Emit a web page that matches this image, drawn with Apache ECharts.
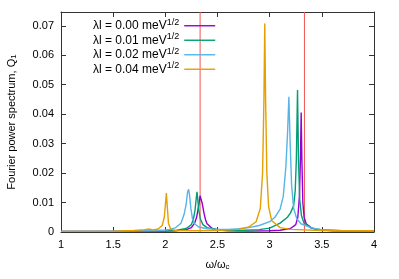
<!DOCTYPE html>
<html><head><meta charset="utf-8">
<script src="https://cdn.jsdelivr.net/npm/echarts@6/dist/echarts.min.js"></script>
<style>html,body{margin:0;padding:0;background:#fff}#c{width:399px;height:279px}</style>
</head><body><div id="c"></div>
<script>
const seriesNames = ['λl = 0.00 meV', 'λl = 0.01 meV', 'λl = 0.02 meV', 'λl = 0.04 meV'];
const seriesColors = ['#9400d3', '#009e73', '#56b4e9', '#e69f00'];
const xTicks = { min: 1, max: 4, interval: 0.5 };
const yTicks = { min: 0, max: 0.0747, interval: 0.01 };
const redLines = [2.3333, 3.3333];

const lam000 = [[1,0.0002],[1.5,0.0002],[2.0,0.0003],[2.1,0.0004],[2.2,0.0008],[2.25,0.0015],[2.28,0.003],[2.3,0.005],[2.32,0.009],[2.333,0.0123],[2.338,0.0126],[2.345,0.0118],[2.355,0.0095],[2.37,0.0065],[2.385,0.0042],[2.40,0.0028],[2.45,0.0012],[2.5,0.0007],[2.6,0.0004],[2.8,0.0003],[3.0,0.0004],[3.1,0.0006],[3.2,0.0012],[3.25,0.0025],[3.27,0.005],[3.285,0.012],[3.295,0.025],[3.302,0.0406],[3.309,0.024],[3.318,0.010],[3.33,0.005],[3.35,0.0028],[3.4,0.0014],[3.45,0.0008],[3.6,0.0004],[4,0.0002]];
const lam001 = [[1,0.0002],[1.5,0.0002],[2.0,0.0003],[2.1,0.0005],[2.2,0.0012],[2.25,0.0025],[2.27,0.0045],[2.285,0.0075],[2.295,0.011],[2.303,0.0136],[2.31,0.0115],[2.32,0.0075],[2.335,0.0045],[2.36,0.0025],[2.4,0.0015],[2.5,0.0008],[2.7,0.0005],[2.9,0.0008],[3.0,0.0013],[3.1,0.003],[3.17,0.005],[3.2,0.0065],[3.23,0.009],[3.245,0.014],[3.256,0.025],[3.267,0.0482],[3.276,0.025],[3.288,0.011],[3.305,0.0055],[3.33,0.003],[3.4,0.0013],[3.5,0.0007],[3.7,0.0004],[4,0.0003]];
const lam002 = [[1,0.0002],[1.5,0.0003],[1.9,0.0005],[2.0,0.0007],[2.05,0.0009],[2.1,0.0015],[2.15,0.003],[2.18,0.006],[2.2,0.0095],[2.213,0.0135],[2.223,0.0145],[2.232,0.0125],[2.245,0.008],[2.26,0.0045],[2.28,0.0028],[2.32,0.0017],[2.4,0.0011],[2.5,0.0009],[2.6,0.0009],[2.7,0.0011],[2.8,0.0015],[2.9,0.0022],[3.0,0.0035],[3.05,0.005],[3.1,0.0078],[3.13,0.012],[3.155,0.022],[3.172,0.034],[3.184,0.0459],[3.195,0.032],[3.21,0.016],[3.23,0.008],[3.26,0.0045],[3.3,0.0028],[3.4,0.0014],[3.5,0.0008],[3.7,0.0004],[4,0.0003]];
const lam004 = [[1,0.0002],[1.5,0.0003],[1.7,0.0005],[1.8,0.0008],[1.85,0.001],[1.88,0.0007],[1.93,0.001],[1.97,0.0022],[1.99,0.005],[2.0,0.009],[2.01,0.0132],[2.018,0.009],[2.03,0.003],[2.05,0.001],[2.1,0.0005],[2.3,0.0004],[2.5,0.0005],[2.7,0.0009],[2.8,0.0017],[2.87,0.0035],[2.91,0.008],[2.932,0.02],[2.945,0.045],[2.953,0.0708],[2.961,0.045],[2.973,0.02],[2.99,0.0085],[3.02,0.0038],[3.1,0.0015],[3.2,0.0009],[3.5,0.0005],[4,0.0004]];
const allData = [lam000, lam001, lam002, lam004];

const FONT = 'Liberation Sans, Arial, sans-serif';
const chart = echarts.init(document.getElementById('c'), null, {renderer: 'canvas'});
const tickStyle = {show: true, inside: true, length: 5, lineStyle: {color: '#333', width: 1}};
const lineStyle = {show: true, onZero: false, lineStyle: {color: '#333', width: 1}};

const series = redLines.map((v, k) => ({
  name: 'ref' + k, type: 'line', data: [[v, yTicks.min], [v, yTicks.max]],
  showSymbol: false, symbol: 'none', silent: true,
  lineStyle: {color: '#f25555', width: 1}, itemStyle: {color: '#f25555'}, z: 2, animation: false
})).concat(allData.map((d, i) => ({
  name: seriesNames[i], type: 'line', data: d, showSymbol: false, symbol: 'none',
  lineStyle: {color: seriesColors[i], width: 1.4}, itemStyle: {color: seriesColors[i]},
  z: 3 + i, animation: false
})));

chart.setOption({
  animation: false,
  backgroundColor: '#fff',
  grid: {left: 61, right: 25, top: 12, bottom: 47, outerBoundsMode: 'none', containLabel: false},
  legend: {
    orient: 'vertical', align: 'right', left: 93, top: 18,
    itemWidth: 31, itemHeight: 10, itemGap: 0.5, padding: 0,
    icon: 'path://M0,4.3 L31,4.3 L31,5.7 L0,5.7 Z',
    data: seriesNames,
    formatter: n => '{a|' + n + '}{s|1/2}',
    textStyle: {
      fontFamily: FONT, fontSize: 12, color: '#000',
      rich: {
        a: {fontFamily: FONT, fontSize: 12, color: '#000', lineHeight: 15.5},
        s: {fontFamily: FONT, fontSize: 9, color: '#000', verticalAlign: 'top', padding: [0, 0, 5, 0], lineHeight: 9}
      }
    }
  },
  xAxis: [{
    type: 'value', min: xTicks.min, max: xTicks.max, interval: xTicks.interval,
    axisLine: lineStyle, axisTick: tickStyle, splitLine: {show: false},
    axisLabel: {fontFamily: FONT, fontSize: 11, color: '#000', margin: 7},
    name: '{a|ω/ω}{b|c}', nameLocation: 'middle', nameGap: 26,
    nameTextStyle: {fontFamily: FONT, fontSize: 11, color: '#000',
      rich: {a: {fontFamily: FONT, fontSize: 11, color: '#000'}, b: {fontFamily: FONT, fontSize: 8, color: '#000', verticalAlign: 'bottom', padding: [5, 0, 0, 0]}}}
  }, {
    type: 'value', position: 'top', min: xTicks.min, max: xTicks.max, interval: xTicks.interval,
    axisLine: lineStyle, axisTick: tickStyle, axisLabel: {show: false}, splitLine: {show: false}
  }],
  yAxis: [{
    type: 'value', min: yTicks.min, max: yTicks.max, interval: yTicks.interval,
    axisLine: lineStyle, axisTick: tickStyle, splitLine: {show: false},
    axisLabel: {fontFamily: FONT, fontSize: 11, color: '#000', margin: 7, showMaxLabel: false},
    name: '{a|Fourier power spectrum, Q}{b|1}', nameLocation: 'middle', nameGap: 43,
    nameTextStyle: {fontFamily: FONT, fontSize: 11, color: '#000',
      rich: {a: {fontFamily: FONT, fontSize: 11, color: '#000'}, b: {fontFamily: FONT, fontSize: 8, color: '#000', verticalAlign: 'bottom', padding: [5, 0, 0, 0]}}}
  }, {
    type: 'value', position: 'right', min: yTicks.min, max: yTicks.max, interval: yTicks.interval,
    axisLine: lineStyle, axisTick: tickStyle, axisLabel: {show: false}, splitLine: {show: false}
  }],
  series: series
});
</script></body></html>
